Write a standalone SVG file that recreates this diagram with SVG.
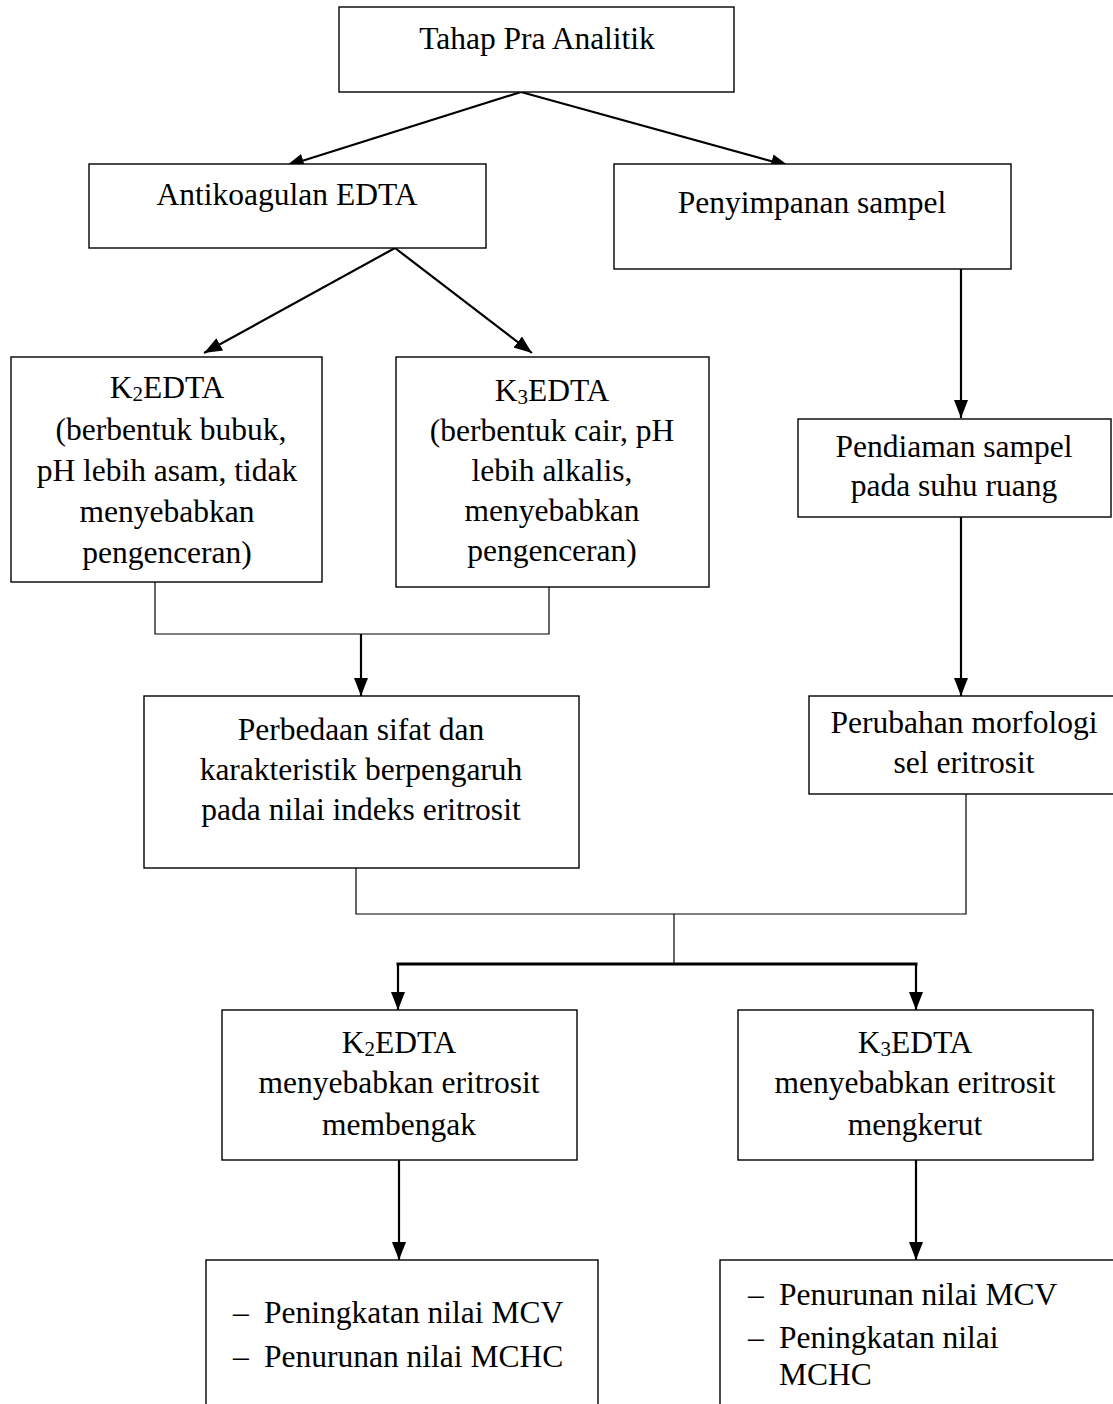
<svg xmlns="http://www.w3.org/2000/svg" width="1113" height="1404" viewBox="0 0 1113 1404">
<defs>
<marker id="ah" markerUnits="userSpaceOnUse" markerWidth="20" markerHeight="16" refX="18" refY="7" orient="auto">
<path d="M0,0 L18,7 L0,14 Z" fill="#000"/>
</marker>
<style>
rect.box{fill:#fff;stroke:#000;stroke-width:1.4}
text{font-family:"Liberation Serif","Times New Roman",serif;font-size:31.5px;fill:#000}
text.c{text-anchor:middle}
.arr{stroke:#000;stroke-width:2.2;fill:none;marker-end:url(#ah)}
.ln{stroke:#000;stroke-width:1.2;fill:none}
.thick{stroke:#000;stroke-width:3;fill:none}
.sub{font-size:21px}
</style>
</defs>
<rect width="1113" height="1404" fill="#fff"/>

<g id="connectors">
<line class="arr" x1="521" y1="92" x2="286" y2="166"/>
<line class="arr" x1="521" y1="92" x2="789" y2="166"/>
<line class="arr" x1="395" y1="248" x2="204" y2="353"/>
<line class="arr" x1="395" y1="248" x2="532" y2="353"/>
<polyline class="ln" points="155,582 155,634 549,634 549,587"/>
<line class="arr" x1="361" y1="634" x2="361" y2="696"/>
<line class="arr" x1="961" y1="269" x2="961" y2="418"/>
<line class="arr" x1="961" y1="517" x2="961" y2="696"/>
<polyline class="ln" points="356,868 356,914 966,914 966,794"/>
<line class="ln" x1="674" y1="914" x2="674" y2="964"/>
<line class="thick" x1="396.5" y1="964" x2="917.5" y2="964"/>
<line class="arr" x1="398" y1="964" x2="398" y2="1010"/>
<line class="arr" x1="916" y1="964" x2="916" y2="1010"/>
<line class="arr" x1="399" y1="1160" x2="399" y2="1260"/>
<line class="arr" x1="916" y1="1160" x2="916" y2="1260"/>
</g>

<g id="tahap">
<rect class="box" x="339" y="7" width="395" height="85"/>
<text class="c" x="537" y="49">Tahap Pra Analitik</text>
</g>

<g id="antikoagulan">
<rect class="box" x="89" y="164" width="397" height="84"/>
<text class="c" x="287" y="205">Antikoagulan EDTA</text>
</g>

<g id="penyimpanan">
<rect class="box" x="614" y="164" width="397" height="105"/>
<text class="c" x="812" y="213">Penyimpanan sampel</text>
</g>

<g id="k2edta">
<rect class="box" x="11" y="357" width="311" height="225"/>
<text class="c" x="167" y="398">K<tspan class="sub" dy="3">2</tspan><tspan dy="-3">EDTA</tspan></text>
<text class="c" x="171" y="440">(berbentuk bubuk,</text>
<text class="c" x="167" y="481">pH lebih asam, tidak</text>
<text class="c" x="167" y="522">menyebabkan</text>
<text class="c" x="167" y="563">pengenceran)</text>
</g>

<g id="k3edta">
<rect class="box" x="396" y="357" width="313" height="230"/>
<text class="c" x="552" y="401">K<tspan class="sub" dy="3">3</tspan><tspan dy="-3">EDTA</tspan></text>
<text class="c" x="552" y="441">(berbentuk cair, pH</text>
<text class="c" x="552" y="481">lebih alkalis,</text>
<text class="c" x="552" y="521">menyebabkan</text>
<text class="c" x="552" y="561">pengenceran)</text>
</g>

<g id="pendiaman">
<rect class="box" x="798" y="419" width="313" height="98"/>
<text class="c" x="954" y="457">Pendiaman sampel</text>
<text class="c" x="954" y="496">pada suhu ruang</text>
</g>

<g id="perbedaan">
<rect class="box" x="144" y="696" width="435" height="172"/>
<text class="c" x="361" y="740">Perbedaan sifat dan</text>
<text class="c" x="361" y="780">karakteristik berpengaruh</text>
<text class="c" x="361" y="820">pada nilai indeks eritrosit</text>
</g>

<g id="perubahan">
<rect class="box" x="809" y="696" width="310" height="98"/>
<text class="c" x="964" y="733">Perubahan morfologi</text>
<text class="c" x="964" y="773">sel eritrosit</text>
</g>

<g id="k2membengak">
<rect class="box" x="222" y="1010" width="355" height="150"/>
<text class="c" x="399" y="1053">K<tspan class="sub" dy="3">2</tspan><tspan dy="-3">EDTA</tspan></text>
<text class="c" x="399" y="1093">menyebabkan eritrosit</text>
<text class="c" x="399" y="1135">membengak</text>
</g>

<g id="k3mengkerut">
<rect class="box" x="738" y="1010" width="355" height="150"/>
<text class="c" x="915" y="1053">K<tspan class="sub" dy="3">3</tspan><tspan dy="-3">EDTA</tspan></text>
<text class="c" x="915" y="1093">menyebabkan eritrosit</text>
<text class="c" x="915" y="1135">mengkerut</text>
</g>

<g id="hasil-k2">
<rect class="box" x="206" y="1260" width="392" height="160"/>
<text x="233" y="1323">–</text>
<text x="264" y="1323">Peningkatan nilai MCV</text>
<text x="233" y="1367">–</text>
<text x="264" y="1367">Penurunan nilai MCHC</text>
</g>

<g id="hasil-k3">
<rect class="box" x="720" y="1260" width="400" height="160"/>
<text x="748" y="1305">–</text>
<text x="779" y="1305">Penurunan nilai MCV</text>
<text x="748" y="1348">–</text>
<text x="779" y="1348">Peningkatan nilai</text>
<text x="779" y="1385">MCHC</text>
</g>
</svg>
